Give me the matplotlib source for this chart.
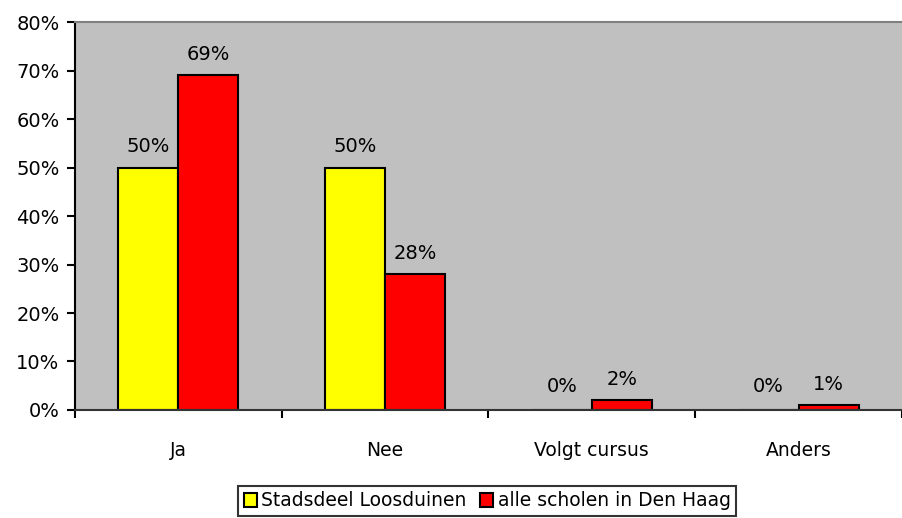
import matplotlib
matplotlib.use("Agg")
import matplotlib.pyplot as plt
import numpy as np
from matplotlib.ticker import FuncFormatter

CATEGORIES = ["Ja", "Nee", "Volgt cursus", "Anders"]
SERIES_NAMES = ["Stadsdeel Loosduinen", "alle scholen in Den Haag"]
LOOSDUINEN = [50, 50, 0, 0]
DEN_HAAG = [69, 28, 2, 1]
COLORS = ["#FFFF00", "#FF0000"]

plt.rcParams["font.family"] = ["DejaVu Sans"]
plt.rcParams["font.size"] = 13.5

fig = plt.figure(figsize=(9.02, 5.18), dpi=100)
ax = fig.add_axes([0.083, 0.2085, 0.917, 0.749])
ax.set_facecolor("#C0C0C0")

x = np.arange(len(CATEGORIES))
width = 0.29
for i, (vals, name, col) in enumerate(zip([LOOSDUINEN, DEN_HAAG], SERIES_NAMES, COLORS)):
    offs = x + (i - 0.5) * width
    ax.bar(offs, vals, width, color=col, edgecolor="black", linewidth=1.5,
           label=name, zorder=2)
    for xo, v in zip(offs, vals):
        ax.annotate(f"{v}%", xy=(xo, v), xytext=(0, 11 if v > 0 else 13),
                    textcoords="offset points", ha="center", va="baseline",
                    fontsize=14)

ax.set_xlim(-0.5, len(CATEGORIES) - 0.5)
ax.set_ylim(0, 80)
ax.set_yticks(range(0, 81, 10))
ax.yaxis.set_major_formatter(FuncFormatter(lambda v, p: f"{v:.0f}%"))
ax.set_xticks(x)
ax.set_xticklabels(CATEGORIES)
ax.set_xticks(np.arange(-0.5, len(CATEGORIES), 1), minor=True)
ax.tick_params(axis="x", which="major", length=0, pad=22)
ax.tick_params(axis="x", which="minor", length=6, width=1.5, direction="out")
ax.tick_params(axis="y", length=6, width=1.5, direction="out", pad=5,
               labelsize=14)

ax.spines["left"].set_linewidth(1.5)
ax.spines["bottom"].set_linewidth(1.5)
ax.spines["bottom"].set_color("#333333")
ax.spines["top"].set_color("#808080")
ax.spines["top"].set_linewidth(1.5)
ax.spines["right"].set_visible(False)

leg = fig.legend(loc="lower center", bbox_to_anchor=(0.54, 0.0), ncol=2,
                 frameon=True, fancybox=False, edgecolor="black",
                 handlelength=0.7, handleheight=0.7, handletextpad=0.25,
                 columnspacing=0.7, borderpad=0.3, borderaxespad=0.1)
leg.get_frame().set_linewidth(1.5)

fig.savefig("out.png", dpi=100)
